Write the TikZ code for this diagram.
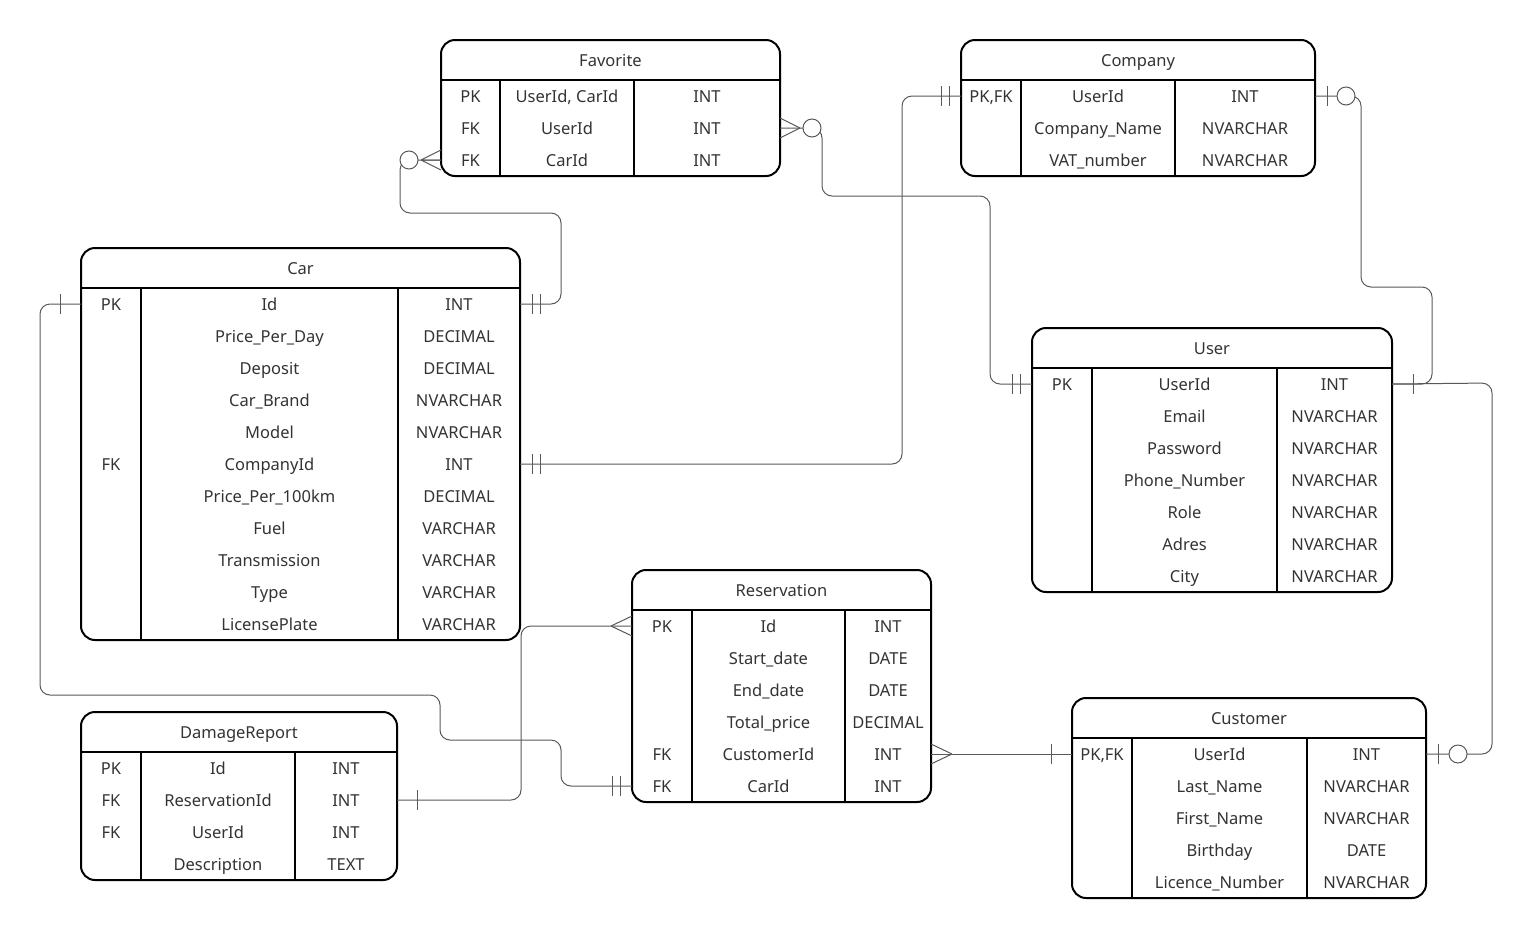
\documentclass[tikz,border=0pt]{standalone}
\usepackage{fontspec}
\setmainfont{Noto Sans}
\begin{document}
\begin{tikzpicture}[x=1pt,y=-1pt,
  tbl/.style={line width=2pt,rounded corners=14pt},
  sep/.style={line width=1.6pt},
  txt/.style={font=\fontsize{16.5}{19}\selectfont,text=black!80,inner sep=0pt,text height=15pt,text depth=3pt},
  con/.style={draw=black!65,line width=1pt,rounded corners=10pt},
  mk/.style={draw=black!65,line width=1pt},
  circ/.style={mk,fill=white}]
\useasboundingbox (0,0) rectangle (1532,938);
% \ertab{name}{x1}{y1}{x2}{c1}{c2}{n}{title}{rows}
\newcommand\ertab[9]{%
  \pgfmathsetmacro\ybot{#3+40+32*#7}
  \draw[tbl] (#2,#3) rectangle (#4,\ybot);
  \draw[sep] (#2,#3+40) -- (#4,#3+40);
  \draw[sep] (#5,#3+40) -- (#5,\ybot);
  \draw[sep] (#6,#3+40) -- (#6,\ybot);
  \node[txt] (#1) at ({(#2+#4)/2},#3+20) {#8};
  \foreach \k/\f/\t [count=\i] in {#9}{
    \pgfmathsetmacro\yy{#3+40+32*\i-16}
    \node[txt] (#1-k\i) at ({(#2+#5)/2},\yy) {\k};
    \node[txt] (#1-f\i) at ({(#5+#6)/2},\yy) {\f};
    \node[txt] (#1-t\i) at ({(#6+#4)/2},\yy) {\t};
    \coordinate (#1-L\i) at (#2,\yy);
    \coordinate (#1-R\i) at (#4,\yy);
  }}
\ertab{fav}{441}{40}{780}{500}{634}{3}{Favorite}{PK/{UserId, CarId}/INT,FK/UserId/INT,FK/CarId/INT}
\ertab{comp}{961}{40}{1315}{1021}{1175}{3}{Company}{PK{,}FK/UserId/INT,/Company\_Name/NVARCHAR,/VAT\_number/NVARCHAR}
\ertab{car}{81}{248}{520}{141}{398}{11}{Car}{PK/Id/INT,/Price\_Per\_Day/DECIMAL,/Deposit/DECIMAL,/Car\_Brand/NVARCHAR,/Model/NVARCHAR,FK/CompanyId/INT,/Price\_Per\_100km/DECIMAL,/Fuel/VARCHAR,/Transmission/VARCHAR,/Type/VARCHAR,/LicensePlate/VARCHAR}
\ertab{user}{1032}{328}{1392}{1092}{1277}{7}{User}{PK/UserId/INT,/Email/NVARCHAR,/Password/NVARCHAR,/Phone\_Number/NVARCHAR,/Role/NVARCHAR,/Adres/NVARCHAR,/City/NVARCHAR}
\ertab{res}{632}{570}{931}{692}{845}{6}{Reservation}{PK/Id/INT,/Start\_date/DATE,/End\_date/DATE,/Total\_price/DECIMAL,FK/CustomerId/INT,FK/CarId/INT}
\ertab{dmg}{81}{712}{397}{141}{295}{4}{DamageReport}{PK/Id/INT,FK/ReservationId/INT,FK/UserId/INT,/Description/TEXT}
\ertab{cus}{1072}{698}{1426}{1132}{1307}{5}{Customer}{PK{,}FK/UserId/INT,/Last\_Name/NVARCHAR,/First\_Name/NVARCHAR,/Birthday/DATE,/Licence\_Number/NVARCHAR}
% Favorite.CarId -- Car.Id
\draw[con] (fav-L3) -- ++(-41,0) |- (561,213) |- (car-R1);
\draw[mk] (fav-L3)++(-20,0) -- ++(20,-10) (fav-L3)++(-20,0) -- ++(20,10) (fav-L3)++(-20,0) -- (fav-L3);
\draw[circ] (fav-L3)++(-32,0) circle (9);
\draw[mk] (car-R1)++(12,-10) -- ++(0,20) (car-R1)++(20,-10) -- ++(0,20);
% Favorite.UserId -- User.UserId
\draw[con] (fav-R2) -- ++(42,0) |- (990,196) |- (user-L1);
\draw[mk] (fav-R2)++(20,0) -- ++(-20,-10) (fav-R2)++(20,0) -- ++(-20,10);
\draw[circ] (fav-R2)++(32,0) circle (9);
\draw[mk] (user-L1)++(-12,-10) -- ++(0,20) (user-L1)++(-20,-10) -- ++(0,20);
% Company -- Car.CompanyId
\draw[con] (comp-L1) -- (902,96) |- (car-R6);
\draw[mk] (comp-L1)++(-12,-10) -- ++(0,20) (comp-L1)++(-20,-10) -- ++(0,20);
\draw[mk] (car-R6)++(12,-10) -- ++(0,20) (car-R6)++(20,-10) -- ++(0,20);
% Company -- User
\draw[con] (comp-R1) -- (1361,96) |- (1432,287) |- (user-R1);
\draw[mk] (comp-R1)++(12,-10) -- ++(0,20);
\draw[circ] (comp-R1)++(31,0) circle (9);
\draw[mk] (user-R1)++(21,-10) -- ++(0,20);
% User -- Customer
\draw[con] (user-R1) -- (1492,383) |- (cus-R1);
\draw[mk] (cus-R1)++(12,-10) -- ++(0,20);
\draw[circ] (cus-R1)++(32,0) circle (9);
% Car.Id -- Reservation.CarId
\draw[con] (car-L1) -- (40,304) |- (440,695) |- (561,740) |- (res-L6);
\draw[mk] (car-L1)++(-21,-10) -- ++(0,20);
\draw[mk] (res-L6)++(-12,-10) -- ++(0,20) (res-L6)++(-20,-10) -- ++(0,20);
% Reservation.Id -- DamageReport
\draw[con] (res-L1) -- (521,626) |- (dmg-R2);
\draw[mk] (res-L1)++(-21,0) -- ++(21,-10) (res-L1)++(-21,0) -- ++(21,10);
\draw[mk] (dmg-R2)++(20,-10) -- ++(0,20);
% Reservation.CustomerId -- Customer
\draw[con] (res-R5) -- (cus-L1);
\draw[mk] (res-R5)++(21,0) -- ++(-21,-10) (res-R5)++(21,0) -- ++(-21,10);
\draw[mk] (cus-L1)++(-21,-10) -- ++(0,20);
\end{tikzpicture}
\end{document}
